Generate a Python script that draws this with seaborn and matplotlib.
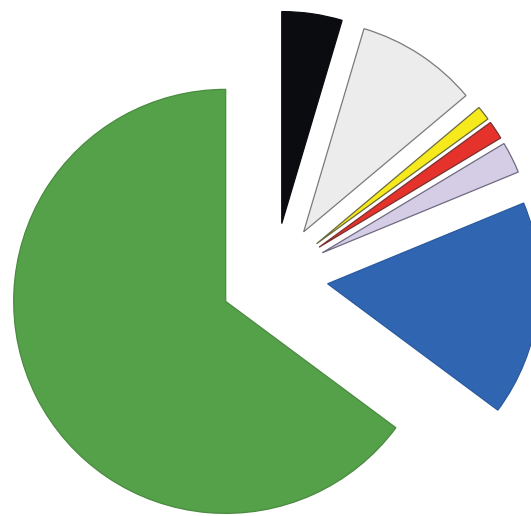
import matplotlib
matplotlib.use("Agg")
import matplotlib.pyplot as plt
import seaborn as sns

sns.set_theme(style="white")

categories = ["Black", "Grey", "Yellow", "Red", "Lavender", "Blue", "Green"]
values = [4.6, 9.3, 1.1, 1.4, 2.4, 16.4, 64.9]
colors = ["#0b0c10", "#ececec", "#f6ea1c", "#e5322b", "#d5cde6", "#2f65b1", "#55a14a"]
edges = ["#0b0c10", "#7a7a7a", "#6a6a40", "#7a3030", "#6e6a80", "#2a5a9e", "#4a8a40"]
explode = [0.255] * len(values)

fig = plt.figure(figsize=(5.31, 5.16), dpi=100)
ax = fig.add_axes([0, 0, 1, 1])
wedges, _ = ax.pie(values, colors=colors, explode=explode, startangle=90,
                   counterclock=False, radius=1.0,
                   wedgeprops=dict(linewidth=0.9))
for w, ec in zip(wedges, edges):
    w.set_edgecolor(ec)
ax.set_xlim(-1.292, 1.212)
ax.set_ylim(-1.127, 1.307)
ax.set_aspect("equal")
ax.axis("off")
fig.savefig("out.png", dpi=100)
